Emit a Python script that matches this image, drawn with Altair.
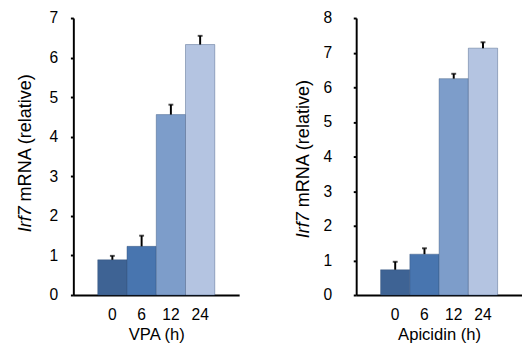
import altair as alt
import pandas as pd

times = ["0", "6", "12", "24"]
colors = ["#3e6394", "#4875af", "#7d9dca", "#b4c4e1"]

vpa_mean = [0.89, 1.23, 4.56, 6.33]
vpa_err = [0.10, 0.27, 0.25, 0.22]

api_mean = [0.73, 1.18, 6.25, 7.13]
api_err = [0.23, 0.17, 0.14, 0.17]

FONT = "Liberation Sans"


def panel(means, errs, ymax, xtitle, ylabel_pad, title_x, split_y):
    df = pd.DataFrame({
        "t": times,
        "v": means,
        "e": errs,
        "c": colors,
    })
    base = alt.Chart(df).transform_calculate(hi="datum.v + datum.e")
    xscale = alt.Scale(domain=times, paddingInner=0, paddingOuter=0.833)
    yscale = alt.Scale(domain=[0, ymax], nice=False, zero=True)
    xax = alt.Axis(
        title=xtitle, labelAngle=0, ticks=False, tickSize=0,
        labelPadding=12, titlePadding=5,
        labelFont=FONT, titleFont=FONT, labelFontSize=16, titleFontSize=17,
        labelColor="black", titleColor="black", titleFontWeight="normal",
        domainColor="black", domainWidth=2, grid=False,
    )
    yax = alt.Axis(
        title=None, values=list(range(ymax + 1)), grid=False,
        tickSize=3, tickWidth=2, tickColor="black", labelPadding=ylabel_pad,
        labelFont=FONT, labelFontSize=16, labelColor="black",
        domainColor="black", domainWidth=2, labelOverlap=False,
    )
    bars = base.mark_bar(stroke="#34507a", strokeWidth=0.7, strokeOpacity=0.6).encode(
        x=alt.X("t:N", sort=times, scale=xscale, axis=xax),
        y=alt.Y("v:Q", scale=yscale, axis=yax),
        color=alt.Color("c:N", scale=None),
    )
    rule = base.mark_rule(color="black", strokeWidth=2).encode(
        x=alt.X("t:N", sort=times, scale=xscale, axis=xax),
        y=alt.Y("v:Q", scale=yscale, axis=yax),
        y2=alt.Y2("hi:Q"),
    )
    cap = base.mark_tick(color="black", orient="horizontal", size=5, thickness=2).encode(
        x=alt.X("t:N", sort=times, scale=xscale, axis=xax),
        y=alt.Y("hi:Q", scale=yscale, axis=yax),
    )
    tdf = pd.DataFrame({"a": [0]})
    t1 = alt.Chart(tdf).mark_text(
        angle=270, align="right", baseline="alphabetic", fontStyle="italic",
        fontSize=18.5, font=FONT, color="black",
    ).encode(x=alt.value(title_x), y=alt.value(split_y), text=alt.value("Irf7"))
    t2 = alt.Chart(tdf).mark_text(
        angle=270, align="left", baseline="alphabetic",
        fontSize=18.5, font=FONT, color="black",
    ).encode(x=alt.value(title_x), y=alt.value(split_y - 5),
             text=alt.value("mRNA (relative)"))
    return alt.layer(bars, rule, cap, t1, t2).properties(width=170, height=284)


left = panel(vpa_mean, vpa_err, 7, "VPA (h)", 13, -43, 193)
right = panel(api_mean, api_err, 8, "Apicidin (h)", 22, -48, 199)

chart = (
    alt.hconcat(left, right, spacing=56)
    .properties(padding={"left": 8, "top": -2, "right": 0, "bottom": 0})
    .configure_view(stroke=None)
)

chart.save("out.html", embed_options={"renderer": "svg", "actions": False})
